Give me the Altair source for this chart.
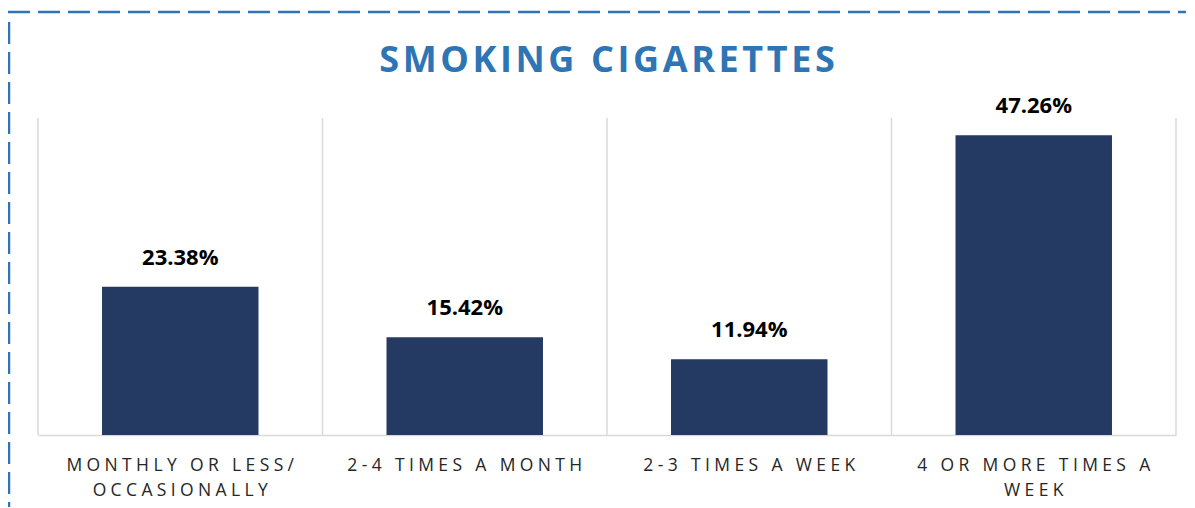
import altair as alt
import pandas as pd

# ---- data ----
categories = ["MONTHLY OR LESS/ OCCASIONALLY", "2-4 TIMES A MONTH", "2-3 TIMES A WEEK", "4 OR MORE TIMES A WEEK"]
label_lines = [["MONTHLY OR LESS/", "OCCASIONALLY"], ["2-4 TIMES A MONTH"], ["2-3 TIMES A WEEK"], ["4 OR MORE TIMES A", "WEEK"]]
values = [23.38, 15.42, 11.94, 47.26]
title_text = "SMOKING CIGARETTES"

LSP = "\u2005"
HAIR = "\u200a"


def spaced(s, sep):
    return sep.join(list(s))


labels = ["|".join(spaced(l, LSP) for l in lines) for lines in label_lines]
df = pd.DataFrame({
    "category": categories,
    "label": labels,
    "value": values,
    "text": [f"{v:.2f}%" for v in values],
})

W, H = 1138, 317
BAR = "#243A63"
GRID = "#D9D9D9"
BLUE = "#2E75B6"

xenc = alt.X(
    "label:N",
    sort=labels,
    scale=alt.Scale(paddingInner=0.45, paddingOuter=0.225),
    axis=alt.Axis(
        title=None,
        labelExpr="split(datum.label, '|')",
        labelAngle=0,
        labelAlign="center",
        ticks=False,
        grid=False,
        domainColor=GRID,
        domainWidth=1.5,
        labelFont="Open Sans",
        labelFontSize=17.5,
        labelColor="#262626",
        labelPadding=21,
        labelLineHeight=25,
        labelLimit=600,
        labelOverlap=False,
        labelBound=False,
    ),
)
yenc = alt.Y("value:Q", scale=alt.Scale(domain=[0, 50]), axis=None)

base = alt.Chart(df)

bars = base.mark_bar(color=BAR).encode(x=xenc, y=yenc)

texts = base.mark_text(
    dy=-22, baseline="alphabetic", font="Open Sans", fontWeight="bold", fontSize=22, color="#000000"
).encode(x=alt.X("label:N", sort=labels), y=yenc, text="text:N")

main = alt.layer(bars, texts)

grid = base.mark_rule(color=GRID, strokeWidth=1.5).encode(
    x=alt.X("label:N", sort=labels, bandPosition=0,
            scale=alt.Scale(paddingInner=0, paddingOuter=0), axis=None),
    y=alt.value(0),
    y2=alt.value(H),
)

one = alt.Chart(alt.Data(values=[{"t": spaced(title_text, HAIR)}]))
right_edge = one.mark_rule(color=GRID, strokeWidth=1.5).encode(
    x=alt.value(W), y=alt.value(0), y2=alt.value(H)
)

title = one.mark_text(
    font="Open Sans", fontSize=36, fontWeight="bold", color=BLUE, align="center", baseline="alphabetic"
).encode(x=alt.value(W / 2), y=alt.value(-46), text="t:N")

border_top = one.mark_rule(color=BLUE, strokeWidth=2.5, strokeDash=[22, 8]).encode(
    x=alt.value(-30), x2=alt.value(W + 25), y=alt.value(-106)
)
border_left = one.mark_rule(color=BLUE, strokeWidth=2.5, strokeDash=[22, 8]).encode(
    x=alt.value(-29), y=alt.value(-96), y2=alt.value(H + 80)
)

chart = alt.layer(grid, right_edge, main, title, border_top, border_left).resolve_scale(
    x="independent"
).properties(
    width=W,
    height=H,
    autosize=alt.AutoSizeParams(type="none"),
    padding={"left": 30, "top": 110, "right": 10, "bottom": 72},
).configure_view(stroke=None)

chart.save("out.html", embed_options={"renderer": "svg", "actions": False})
